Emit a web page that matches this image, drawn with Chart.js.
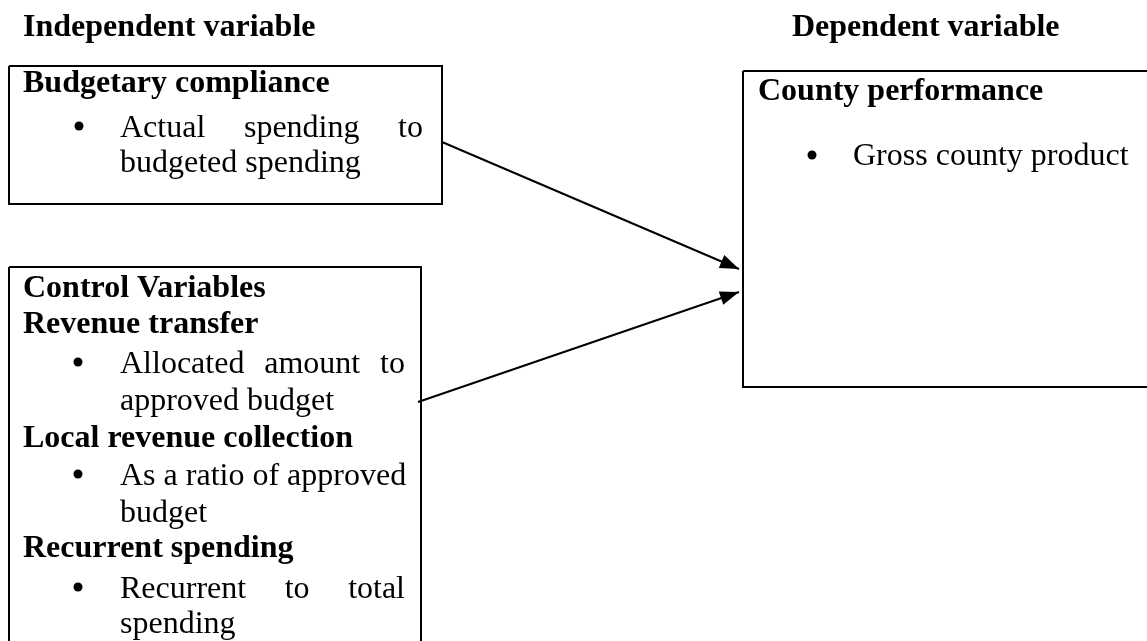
<!DOCTYPE html>
<html>
<head>
<meta charset="utf-8">
<script src="https://cdn.jsdelivr.net/npm/chart.js@4"></script>
<style>
  html, body { margin: 0; padding: 0; background: #fff; }
  #wrap { width: 1147px; height: 641px; }
</style>
</head>
<body>
<div id="wrap"><canvas id="diagram" width="1147" height="641"></canvas></div>
<script>
// diagram space is the page itself: 0..1147 across, 0..641 down

// boxes (left, top, right, bottom); two run past the page edge like the original
var boxNames = ["Budgetary compliance", "Control Variables", "County performance"];
var boxLeft = [9, 9, 743];
var boxTop = [66, 267, 71];
var boxRight = [442, 421, 1170];
var boxBottom = [204, 670, 387];

// arrows from the left boxes to the dependent variable box
var arrowFromX = [442, 418];
var arrowFromY = [142, 402];
var arrowToX = [739, 739];
var arrowToY = [269, 292];

// bullet dots
var bulletX = [79, 78, 78, 78, 812];
var bulletY = [126, 362, 474, 587, 155];

// text lines: words, left x, baseline y, bold flag, right edge when justified
var lineText = [
  "Independent variable",
  "Dependent variable",
  "Budgetary compliance",
  "Actual spending to",
  "budgeted spending",
  "Control Variables",
  "Revenue transfer",
  "Allocated amount to",
  "approved budget",
  "Local revenue collection",
  "As a ratio of approved",
  "budget",
  "Recurrent spending",
  "Recurrent to total",
  "spending",
  "County performance",
  "Gross county product"
];
var lineX = [23, 792, 23, 120, 120, 23, 23, 120, 120, 23, 120, 120, 23, 120, 120, 758, 853];
var lineY = [36, 36, 92, 137, 172, 297, 333, 373, 410, 447, 485, 522, 557, 598, 633, 100, 165];
var lineBold = [1, 1, 1, 0, 0, 1, 1, 0, 0, 1, 0, 0, 1, 0, 0, 1, 0];
var lineJustifyTo = [0, 0, 0, 423, 0, 0, 0, 405, 0, 0, 0, 0, 0, 405, 0, 0, 0];

var ctx = document.getElementById("diagram").getContext("2d");

// build one closed outline per box
var datasets = [];
for (var i = 0; i < boxNames.length; i++) {
  datasets.push({
    label: boxNames[i],
    data: [
      { x: boxLeft[i], y: boxTop[i] },
      { x: boxRight[i], y: boxTop[i] },
      { x: boxRight[i], y: boxBottom[i] },
      { x: boxLeft[i], y: boxBottom[i] },
      { x: boxLeft[i], y: boxTop[i] }
    ],
    showLine: true,
    borderColor: "#000",
    borderWidth: 2,
    pointRadius: 0,
    fill: false,
    tension: 0,
    borderJoinStyle: "miter"
  });
}

// arrow shafts, heads are added by the plugin below
for (var i = 0; i < arrowFromX.length; i++) {
  datasets.push({
    label: "arrow",
    data: [
      { x: arrowFromX[i], y: arrowFromY[i] },
      { x: arrowToX[i], y: arrowToY[i] }
    ],
    showLine: true,
    borderColor: "#000",
    borderWidth: 2,
    pointRadius: 0,
    fill: false
  });
}

// bullets as plain round points
datasets.push({
  label: "bullets",
  data: bulletX.map(function (x, i) { return { x: x, y: bulletY[i] }; }),
  showLine: false,
  pointStyle: "circle",
  pointRadius: 4.5,
  pointBorderWidth: 0,
  backgroundColor: "#000",
  borderColor: "#000"
});

var arrowHeads = {
  id: "arrowHeads",
  afterDatasetsDraw: function (chart) {
    var c = chart.ctx;
    chart.data.datasets.forEach(function (ds, idx) {
      if (ds.label !== "arrow") return;
      var pts = chart.getDatasetMeta(idx).data;
      var a = pts[pts.length - 2], b = pts[pts.length - 1];
      var ang = Math.atan2(b.y - a.y, b.x - a.x);
      var len = 19, half = 7;
      c.save();
      c.translate(b.x, b.y);
      c.rotate(ang);
      c.beginPath();
      c.moveTo(0, 0);
      c.lineTo(-len, -half);
      c.lineTo(-len, half);
      c.closePath();
      c.fillStyle = "#000";
      c.fill();
      c.restore();
    });
  }
};

var textLines = {
  id: "textLines",
  afterDraw: function (chart) {
    var c = chart.ctx;
    var xs = chart.scales.x, ys = chart.scales.y;
    c.save();
    c.fillStyle = "#000";
    c.textBaseline = "alphabetic";
    c.textAlign = "left";
    for (var i = 0; i < lineText.length; i++) {
      c.font = (lineBold[i] ? "bold " : "") + "32px 'Liberation Serif', 'DejaVu Serif', serif";
      var px = xs.getPixelForValue(lineX[i]);
      var py = ys.getPixelForValue(lineY[i]);
      if (lineJustifyTo[i]) {
        // spread the words so the line fills the box width
        var words = lineText[i].split(" ");
        var total = 0;
        words.forEach(function (w) { total += c.measureText(w).width; });
        var right = xs.getPixelForValue(lineJustifyTo[i]);
        var gap = (right - px - total) / (words.length - 1);
        var cx = px;
        words.forEach(function (w) {
          c.fillText(w, cx, py);
          cx += c.measureText(w).width + gap;
        });
      } else {
        c.fillText(lineText[i], px, py);
      }
    }
    c.restore();
  }
};

var myChart = new Chart(ctx, {
  type: "scatter",
  data: { datasets: datasets },
  options: {
    responsive: false,
    animation: false,
    events: [],
    layout: { padding: 0, autoPadding: false },
    plugins: {
      legend: { display: false },
      tooltip: { enabled: false }
    },
    scales: {
      x: { type: "linear", min: 0, max: 1147, display: false },
      y: { type: "linear", min: 0, max: 641, reverse: true, display: false }
    }
  },
  plugins: [arrowHeads, textLines]
});
</script>
</body>
</html>
